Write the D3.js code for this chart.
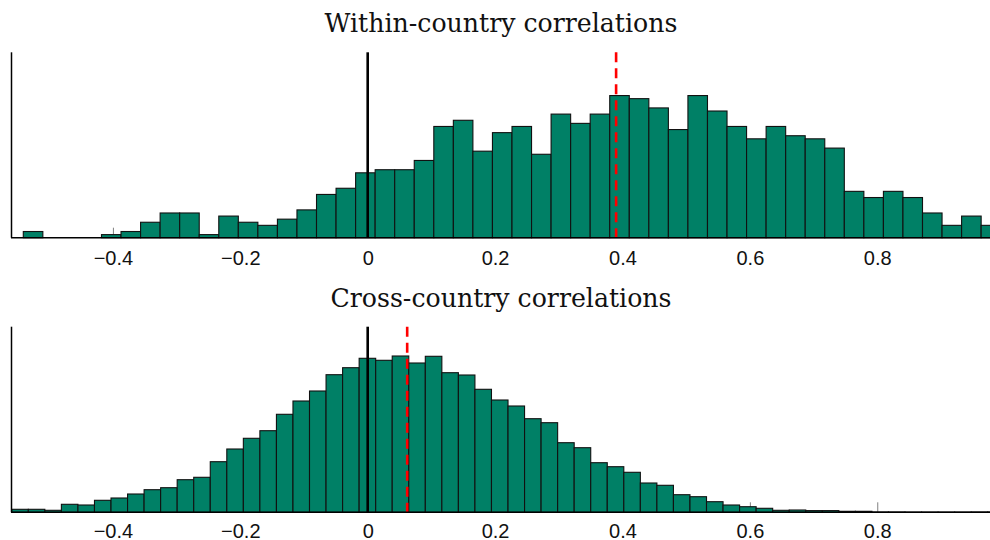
<!DOCTYPE html>
<html><head><meta charset="utf-8">
<script src="https://cdn.jsdelivr.net/npm/d3@7"></script>
<style>body{margin:0;background:#fff}svg{display:block}</style>
</head><body><svg id="c" width="990" height="540"></svg>
<script>
// ---- data ----
const titles = ["Within-country correlations", "Cross-country correlations"];
const tickValues = [-0.4, -0.2, 0, 0.2, 0.4, 0.6, 0.8];
const tickLabels = ["\u22120.4", "\u22120.2", "0", "0.2", "0.4", "0.6", "0.8"];

// within-country histogram: 50 equal bins
const withinBinStart = -0.5407, withinBinWidth = 0.03069;
const withinCounts = [2,0,0,0,1,2,5,8,8,1,7,5,4,6,9,14,16,21,22,22,25,36,38,28,34,36,27,40,37,40,46,45,42,35,46,41,36,32,36,33,32,29,15,13,15,13,8,4,7,4];
const withinMean = 0.39;
const withinYMax = 60;

// cross-country histogram: 60 equal bins
const crossBinStart = -0.5588, crossBinWidth = 0.02597;
const crossCounts = [30,30,20,80,73,120,143,183,226,246,326,350,506,633,740,816,980,1113,1213,1376,1446,1540,1520,1563,1493,1560,1396,1373,1230,1123,1063,936,896,696,646,496,456,400,293,270,176,156,106,73,56,40,20,23,17,17,10,10,3,3,2,2,2,2,3,3];
const crossMean = 0.062;
const crossYMax = 1856;

const xDomain = [-0.56, 0.977];

// ---- drawing ----
const svg = d3.select("#c");
const W = 990;
const x = d3.scaleLinear().domain(xDomain).range([11, 990]);
const barFill = "#008066";

const panels = [
  {title: titles[0], counts: withinCounts, start: withinBinStart, width: withinBinWidth, mean: withinMean, yMax: withinYMax, top: 52.3, base: 237.7, titleY: 31.5, labelY: 264.5},
  {title: titles[1], counts: crossCounts, start: crossBinStart, width: crossBinWidth, mean: crossMean, yMax: crossYMax, top: 326.7, base: 512.3, titleY: 306.5, labelY: 537.5}
];

panels.forEach(p => {
  const g = svg.append("g");
  const y = d3.scaleLinear().domain([0, p.yMax]).range([p.base, p.top]);
  const bins = p.counts.map((c, i) => ({x0: p.start + i * p.width, x1: p.start + (i + 1) * p.width, c}));

  // ticks (inside, drawn behind bars)
  const axis = d3.axisTop(x).tickValues(tickValues).tickSize(10).tickFormat("");
  const ag = g.append("g").attr("transform", `translate(0,${p.base})`).call(axis);
  ag.select(".domain").remove();
  ag.selectAll(".tick line").attr("stroke", "#808080").attr("stroke-width", 1);

  // bars
  g.append("g").selectAll("rect").data(bins.filter(b => b.c > 0)).join("rect")
    .attr("x", b => x(b.x0))
    .attr("width", b => x(b.x1) - x(b.x0))
    .attr("y", b => y(b.c))
    .attr("height", b => y(0) - y(b.c))
    .attr("fill", barFill)
    .attr("stroke", "#111")
    .attr("stroke-width", 1.1);

  // zero line
  g.append("line").attr("x1", x(0)).attr("x2", x(0)).attr("y1", p.top).attr("y2", p.base)
    .attr("stroke", "#000").attr("stroke-width", 2.6);
  // mean line
  g.append("line").attr("x1", x(p.mean)).attr("x2", x(p.mean)).attr("y1", p.top).attr("y2", p.base)
    .attr("stroke", "#ff0000").attr("stroke-width", 2.6).attr("stroke-dasharray", "10,6");

  // axes lines
  g.append("line").attr("x1", 11).attr("x2", W).attr("y1", p.base).attr("y2", p.base)
    .attr("stroke", "#000").attr("stroke-width", 1.5);
  g.append("line").attr("x1", 11.5).attr("x2", 11.5).attr("y1", p.top).attr("y2", p.base)
    .attr("stroke", "#000").attr("stroke-width", 1.5);

  // tick labels
  const bx = d3.axisBottom(x).tickValues(tickValues).tickSize(0).tickPadding(0)
    .tickFormat((d, i) => tickLabels[i]);
  const lg = g.append("g").attr("transform", `translate(0,${p.labelY})`).call(bx);
  lg.select(".domain").remove();
  lg.selectAll(".tick text").attr("dy", 0).attr("y", 0)
    .attr("font-family", "'Liberation Sans', Arial, sans-serif").attr("font-size", 20).attr("fill", "#111");

  // title
  g.append("text").attr("class", "title").attr("x", 501).attr("y", p.titleY)
    .attr("text-anchor", "middle").attr("font-family", "'DejaVu Serif', serif")
    .attr("font-size", 22).attr("fill", "#111").text(p.title);
});

// fit title size to the reference width of the first title (~353px)
const t0 = svg.select("text.title").node();
const w0 = t0.getComputedTextLength();
const fs = 22 * 353 / w0;
svg.selectAll("text.title").attr("font-size", fs);
</script>
</body></html>
